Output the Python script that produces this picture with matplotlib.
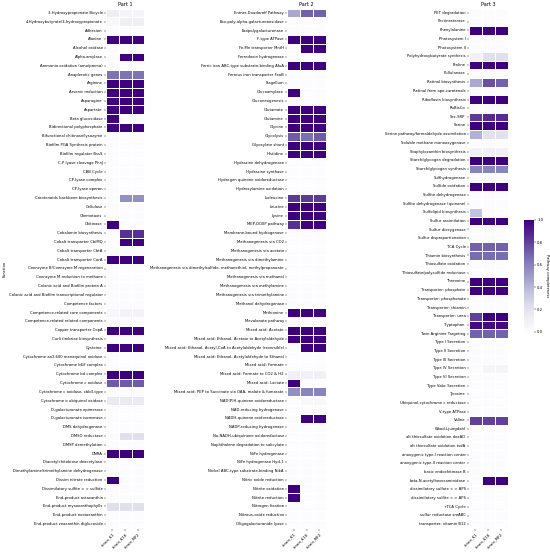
import numpy as np
import pandas as pd
import matplotlib
matplotlib.use('Agg')
import matplotlib.pyplot as plt
import seaborn as sns

strains = ['strain_K1', 'strain_K18', 'strain_MF2']

# part 1 : rows are [K1, K18, MF2]
part1_names = [
    '3-Hydroxypropionate Bicycle', '4-Hydroxybutyrate/3-hydroxypropionate', 'Adhesion', 'Alanine',
    'Alcohol oxidase', 'Alpha-amylase', 'Ammonia oxidation (amo/pmmo)', 'Anaplerotic genes', 'Arginine',
    'Arsenic reduction', 'Asparagine', 'Aspartate', 'Beta glucosidase', 'Bidirectional polyphosphate',
    'Bifunctional chitinase/lysozyme', 'Biofilm PGA Synthesis protein', 'Biofilm regulator BssS',
    'C-P lyase cleavage PhnJ', 'CBB Cycle', 'CP-lyase complex', 'CP-lyase operon',
    'Carotenoids backbone biosynthesis', 'Cellulase', 'Chemotaxis', 'Chitinase', 'Cobalamin biosynthesis',
    'Cobalt transporter CbiMQ', 'Cobalt transporter CbtA', 'Cobalt transporter CorA',
    'Coenzyme B/Coenzyme M regeneration', 'Coenzyme M reduction to methane',
    'Colanic acid and Biofilm protein A', 'Colanic acid and Biofilm transcriptional regulator',
    'Competence factors', 'Competence-related core components', 'Competence-related related components',
    'Copper transporter CopA', 'Curli fimbriae biosynthesis', 'Cysteine',
    'Cytochrome aa3-600 menaquinol oxidase', 'Cytochrome b6/f complex', 'Cytochrome bd complex',
    'Cytochrome c oxidase', 'Cytochrome c oxidase, cbb3-type', 'Cytochrome o ubiquinol oxidase',
    'D-galacturonate epimerase', 'D-galacturonate isomerase', 'DMS dehydrogenase', 'DMSO reductase',
    'DMSP demethylation', 'DNRA', 'Diacetylchitobiose deacetylase',
    'Dimethylamine/trimethylamine dehydrogenase', 'Dissim nitrate reduction',
    'Dissimilatory sulfite < > sulfide', 'End-product astaxanthin', 'End-product myxoxanthophylls',
    'End-product nostoxanthin', 'End-product zeaxanthin diglucoside',
]
part1_vals = [
    [0.12, 0.06, 0.07], [0.05, 0.12, 0.12], [0, 0, 0], [1, 1, 1],
    [0, 0, 0], [0, 1, 1], [0, 0, 0], [0.65, 0.65, 0.65], [1, 1, 1],
    [1, 1, 1], [1, 1, 1], [1, 1, 1], [1, 0, 0], [1, 1, 1],
    [0, 0, 0], [0, 0, 0], [0, 0, 0],
    [0, 0, 0], [0, 0, 0], [0, 0, 0], [0, 0, 0],
    [0, 0.55, 0.55], [0, 0, 0], [0, 0, 0], [1, 0, 0], [0, 0.85, 0.85],
    [0, 1, 1], [0, 0, 0], [1, 1, 1],
    [0, 0, 0], [0, 0, 0],
    [0, 0, 0], [0, 0, 0],
    [0, 0, 0], [0.05, 0.08, 0.08], [0, 0, 0],
    [1, 1, 1], [0, 0, 0], [1, 1, 1],
    [0, 0, 0], [0, 0, 0], [1, 1, 1],
    [0.72, 0.72, 0.72], [0, 0, 0], [0.15, 0.15, 0.15],
    [0, 0, 0], [0, 0, 0], [0, 0, 0], [0, 0.22, 0.22],
    [0, 0, 0], [1, 1, 1], [0, 0, 0],
    [0, 0, 0], [1, 0, 0],
    [0, 0, 0], [0, 0, 0], [0.22, 0.22, 0.22],
    [0, 0, 0], [0, 0, 0],
]

part2_names = [
    'Entner-Doudoroff Pathway', 'Exo-poly-alpha-galacturonosidase', 'Exopolygalacturonase', 'F-type ATPase',
    'Fe-Mn transporter MntH', 'Ferredoxin hydrogenase', 'Ferric iron ABC-type substrate-binding AfuA',
    'Ferrous iron transporter FeoB', 'Flagellum', 'Glucoamylase', 'Gluconeogenesis', 'Glutamate',
    'Glutamine', 'Glycine', 'Glycolysis', 'Glyoxylate shunt', 'Histidine', 'Hydrazine dehydrogenase',
    'Hydrazine synthase', 'Hydrogen quinone oxidoreductase', 'Hydroxylamine oxidation', 'Isoleucine',
    'Leucine', 'Lysine', 'MEP-DOXP pathway', 'Membrane-bound hydrogenase', 'Methanogenesis via CO2',
    'Methanogenesis via acetate', 'Methanogenesis via dimethylamine',
    'Methanogenesis via dimethylsulfide, methanethiol, methylpropanoate', 'Methanogenesis via methanol',
    'Methanogenesis via methylamine', 'Methanogenesis via trimethylamine', 'Methanol dehydrogenase',
    'Methionine', 'Mevalonate pathway', 'Mixed acid: Acetate', 'Mixed acid: Ethanol, Acetate to Acetylaldehyde',
    'Mixed acid: Ethanol, Acetyl-CoA to Acetylaldehyde (reversible)',
    'Mixed acid: Ethanol, Acetylaldehyde to Ethanol', 'Mixed acid: Formate', 'Mixed acid: Formate to CO2 & H2',
    'Mixed acid: Lactate', 'Mixed acid: PEP to Succinate via OAA, malate & fumarate',
    'NAD(P)H-quinone oxidoreductase', 'NAD-reducing hydrogenase', 'NADH-quinone oxidoreductase',
    'NADP-reducing hydrogenase', 'Na-NADH-ubiquinone oxidoreductase', 'Naphthalene degradation to salicylate',
    'NiFe hydrogenase', 'NiFe hydrogenase Hyd-1', 'Nickel ABC-type substrate-binding NikA',
    'Nitric oxide reduction', 'Nitrite oxidation', 'Nitrite reduction', 'Nitrogen fixation',
    'Nitrous-oxide reduction', 'Oligogalacturonide lyase',
]
part2_vals = [
    [0.45, 0.7, 0.7], [0, 0, 0], [0, 0, 0], [1, 1, 1],
    [0, 1, 1], [0, 0, 0], [1, 1, 1],
    [0, 0, 0], [0, 0, 0], [1, 0, 0], [0, 0, 0], [1, 1, 1],
    [1, 1, 1], [1, 1, 1], [0.72, 0.66, 0.72], [1, 1, 1], [1, 1, 1], [0, 0, 0],
    [0, 0, 0], [0, 0, 0], [0, 0, 0], [0.82, 0.82, 0.82],
    [1, 1, 1], [1, 1, 1], [0.85, 1, 1], [0, 0, 0], [0, 0, 0],
    [0, 0, 0], [0, 0, 0],
    [0, 0, 0], [0, 0, 0],
    [0, 0, 0], [0, 0, 0], [0, 0, 0],
    [1, 1, 1], [0, 0, 0], [1, 1, 1], [1, 1, 1],
    [0, 1, 1],
    [0, 0, 0], [0, 0, 0], [0.1, 0.1, 0.1],
    [1, 0, 0], [0.55, 0.6, 0.6],
    [0, 0.04, 0.04], [0, 0, 0], [0, 1, 1],
    [0, 0, 0], [0, 0, 0], [0, 0, 0],
    [0, 0, 0], [0, 0, 0], [0, 0, 0],
    [0, 0, 0], [1, 0, 0], [1, 0, 0], [0, 0, 0],
    [0, 0, 0], [0, 0, 0],
]

part3_names = [
    'PET degradation', 'Pectinesterase', 'Phenylalanine', 'Photosystem I', 'Photosystem II',
    'Polyhydroxybutyrate synthesis', 'Proline', 'Pullulanase', 'Retinal biosynthesis',
    'Retinal from apo-carotenals', 'Riboflavin biosynthesis', 'RuBisCo', 'Sec-SRP', 'Serine',
    'Serine pathway/formaldehyde assimilation', 'Soluble methane monooxygenase',
    'Staphyloxanthin biosynthesis', 'Starch/glycogen degradation', 'Starch/glycogen synthesis',
    'Sulfhydrogenase', 'Sulfide oxidation', 'Sulfite dehydrogenase', 'Sulfite dehydrogenase (quinone)',
    'Sulfolipid biosynthesis', 'Sulfur assimilation', 'Sulfur dioxygenase', 'Sulfur disproportionation',
    'TCA Cycle', 'Thiamin biosynthesis', 'Thiosulfate oxidation', 'Thiosulfate/polysulfide reductase',
    'Threonine', 'Transporter: phosphate', 'Transporter: phosphonate', 'Transporter: thiamin',
    'Transporter: urea', 'Tryptophan', 'Twin Arginine Targeting', 'Type I Secretion', 'Type II Secretion',
    'Type III Secretion', 'Type IV Secretion', 'Type VI Secretion', 'Type Vabc Secretion', 'Tyrosine',
    'Ubiquinol-cytochrome c reductase', 'V-type ATPase', 'Valine', 'Wood-Ljungdahl',
    'alt thiosulfate oxidation doxAD', 'alt thiosulfate oxidation tsdA', 'anoxygenic type-I reaction center',
    'anoxygenic type-II reaction center', 'basic endochitinase B', 'beta-N-acetylhexosaminidase',
    'dissimilatory sulfate < > APS', 'dissimilatory sulfite < > APS', 'rTCA Cycle',
    'sulfur reductase sreABC', 'transporter: vitamin B12',
]
part3_vals = [
    [0, 0, 0], [0, 0, 0], [1, 1, 1], [0, 0, 0], [0, 0, 0],
    [0.1, 0.22, 0.22], [1, 1, 1], [0, 0, 0], [0.45, 0.75, 0.7],
    [0, 0, 0], [1, 1, 1], [0, 0, 0], [0.82, 0.86, 0.86], [1, 1, 1],
    [0.42, 0.2, 0.2], [0, 0, 0],
    [0.1, 0.1, 0.1], [1, 1, 1], [0.6, 0.6, 0.6],
    [0, 0, 0], [1, 1, 1], [0, 0, 0], [0, 0, 0],
    [0.35, 0, 0], [1, 1, 1], [0, 0, 0], [0, 0, 0],
    [0.7, 0.7, 0.7], [0.67, 0.67, 0.67], [0, 0, 0], [0, 0, 0],
    [1, 1, 1], [1, 1, 1], [0, 0, 0], [0, 0, 0],
    [0.8, 1, 1], [0.97, 0.97, 0.97], [0.7, 0.7, 0.7], [0, 0, 0], [0, 0, 0],
    [0, 0, 0], [0, 0.06, 0.06], [0, 0, 0], [0, 0, 0], [0, 0, 0],
    [0, 0, 0], [0, 0, 0], [0.8, 0.8, 0.8], [0, 0, 0],
    [0, 0, 0], [0, 0, 0], [0, 0, 0],
    [0, 0, 0], [0, 0, 0], [0, 1, 1],
    [0, 0, 0], [0, 0, 0], [0, 0, 0],
    [0, 0, 0], [0, 0, 0],
]

parts = [('Part 1', part1_names, part1_vals),
         ('Part 2', part2_names, part2_vals),
         ('Part 3', part3_names, part3_vals)]

fs = 2.7
fig = plt.figure(figsize=(5.5, 5.52), dpi=100)
W, H = 550.0, 552.0
lefts = [106, 287.3, 469]
top, bot = 8.5, 528.5
cax = fig.add_axes([523.7 / W, 1 - 331.7 / H, 10 / W, 111.7 / H])

for i, (title, names, vals) in enumerate(parts):
    ax = fig.add_axes([lefts[i] / W, 1 - bot / H, 38.5 / W, (bot - top) / H])
    df = pd.DataFrame(vals, index=names, columns=strains)
    last = i == len(parts) - 1
    sns.heatmap(df, ax=ax, cmap='Purples', vmin=0, vmax=1, linewidths=0.4, linecolor='white',
                cbar=last, cbar_ax=cax if last else None,
                xticklabels=True, yticklabels=True,
                cbar_kws={'label': 'Pathway completeness'} if last else None)
    ax.set_title(title, fontsize=3.6, pad=2)
    ax.tick_params(axis='both', labelsize=fs, length=1.5, width=0.3, pad=1)
    plt.setp(ax.get_xticklabels(), rotation=45, ha='right', rotation_mode='anchor')
    plt.setp(ax.get_yticklabels(), rotation=0)
    ax.set_xlabel('')
    ax.set_ylabel('')

cax.tick_params(labelsize=fs, length=1.5, width=0.3, pad=1)
cax.yaxis.label.set_size(fs)
cax.set_ylabel('Pathway completeness', fontsize=fs, rotation=270, labelpad=4)
for s in cax.spines.values():
    s.set_visible(False)

fig.text(5 / W, 0.5 * ((1 - bot / H) + (1 - top / H)), 'Function', rotation=90,
         fontsize=fs, va='center', ha='center')

fig.savefig('out.png', dpi=100)
